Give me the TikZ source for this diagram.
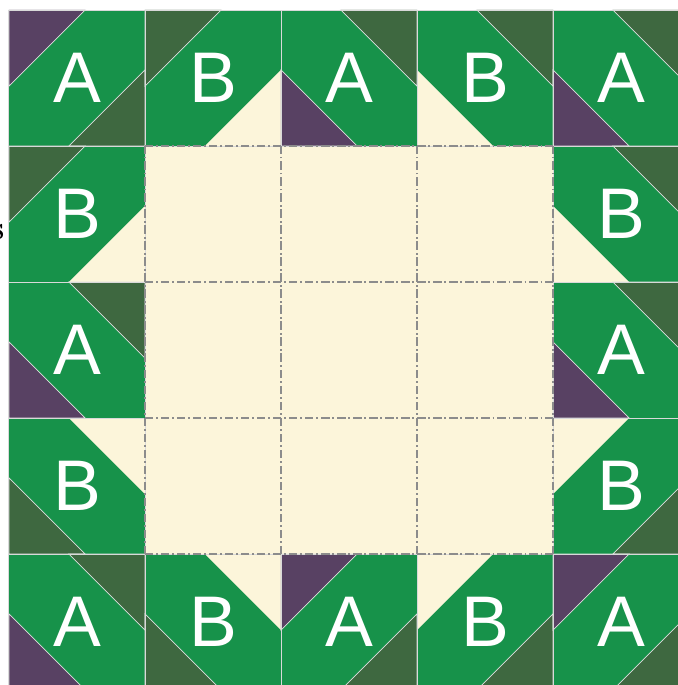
\documentclass[tikz,border=0pt]{standalone}
\usepackage{xcolor}
\usepackage{fontspec}
\setsansfont{Liberation Sans}
\usepackage{tikz}

\tikzset{
    bandfill/.style={fill={rgb,255:red,23;green,146;blue,74}},
    mossfill/.style={fill={rgb,255:red,62;green,104;blue,64}, draw=white!75!gray, line width=0.3pt},
    plumfill/.style={fill={rgb,255:red,88;green,65;blue,99}, draw=white!75!gray, line width=0.3pt},
    creamfill/.style={fill={rgb,255:red,252;green,245;blue,218}, draw=none},
    cellline/.style={draw={rgb,255:red,140;green,140;blue,140}, line width=1.1pt, dash pattern=on 3.5pt off 1.2pt on 0.8pt off 1.2pt},
    letter/.style={text=white, font=\sffamily\fontsize{30}{30}\selectfont}
}

\begin{document}
\begin{tikzpicture}
    \useasboundingbox (-0.132,0.147) rectangle (9.824,-9.926);

    % Centre
    \fill[creamfill] (2,-2) rectangle (8,-8);

    % Border blocks: col/row/turn/top corner/bottom corner/letter
    \foreach \col/\row/\dir/\ca/\cb/\txt in {
        0/0/1/plumfill/mossfill/A, 1/0/1/mossfill/creamfill/B,
        2/0/-1/mossfill/plumfill/A, 3/0/-1/mossfill/creamfill/B,
        4/0/-1/mossfill/plumfill/A,
        0/1/1/mossfill/creamfill/B, 4/1/-1/mossfill/creamfill/B,
        0/2/-1/mossfill/plumfill/A, 4/2/-1/mossfill/plumfill/A,
        0/3/-1/creamfill/mossfill/B, 4/3/1/creamfill/mossfill/B,
        0/4/-1/mossfill/plumfill/A, 1/4/-1/creamfill/mossfill/B,
        2/4/1/plumfill/mossfill/A, 3/4/1/creamfill/mossfill/B,
        4/4/1/plumfill/mossfill/A} {
        \begin{scope}[shift={(2*\col+1,-2*\row-1)}, xscale=\dir]
            \fill[bandfill] (-1,-1) rectangle (1,1);
            \filldraw[\ca] (-1,1) -- (0.12,1) -- (-1,-0.12) -- cycle;
            \filldraw[\cb] (1,-1) -- (-0.12,-1) -- (1,0.12) -- cycle;
            \draw[gray!30, line width=0.4pt] (-1,-1) rectangle (1,1);
        \end{scope}
        \node[letter] (blk-\col-\row) at (2*\col+1,-2*\row-1) {\txt};
    }

    % Cell seams
    \draw[cellline, step=2] (2,-2) grid (8,-8);

    % Cut-off label on the left
    \node[anchor=east, inner sep=0pt, font=\fontsize{14}{14}\selectfont\bfseries] (side) at (-0.06,-3.26) {s};
\end{tikzpicture}
\end{document}
